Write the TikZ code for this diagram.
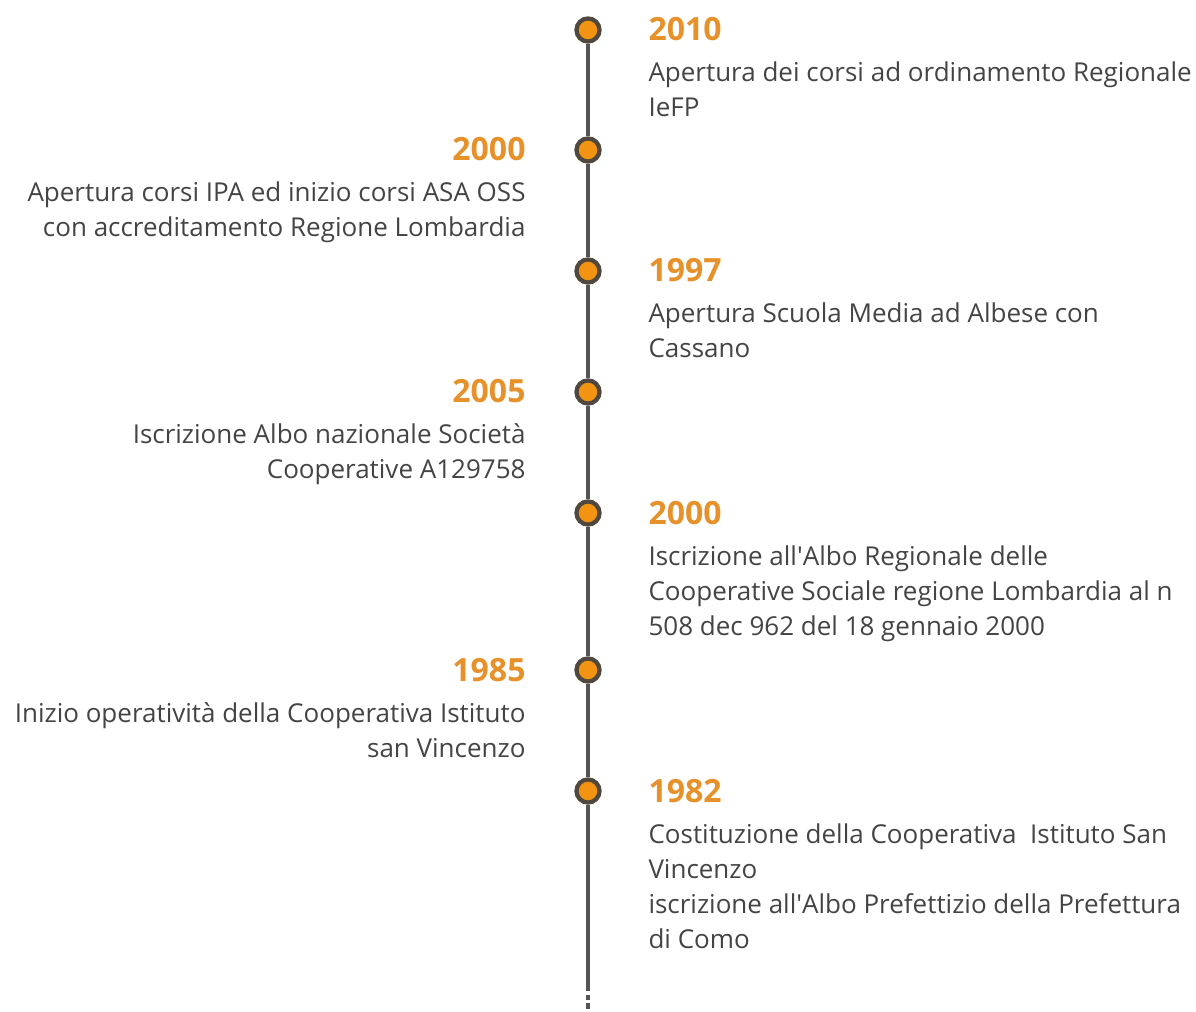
\documentclass[tikz,border=0pt]{standalone}
\usepackage{fontspec}
\setmainfont{Open Sans}
\definecolor{lineGray}{RGB}{85,85,85}
\definecolor{ringGray}{RGB}{80,72,62}
\definecolor{yearOrange}{RGB}{230,145,42}
\definecolor{dotOrange}{RGB}{242,148,18}
\definecolor{textGray}{RGB}{68,68,68}
\tikzset{every picture/.style={line width=0.75pt}}

\begin{document}
\begin{tikzpicture}[x=0.75pt,y=0.75pt,yscale=-1,xscale=1,
  dot/.style={circle,draw=ringGray,fill=dotOrange,line width=3.2pt,minimum size=17.3pt,inner sep=0pt},
  timeline/.style={draw=lineGray,line width=3pt},
  year/.style={text=yearOrange,font=\fontsize{24}{28}\selectfont\bfseries,inner sep=0pt},
  desc/.style={text=textGray,font=\fontsize{19.5}{26.25}\selectfont,inner sep=0pt}]
\path[use as bounding box] (0,0) rectangle (1196,1012);

%Shape: Circle
\node [dot] (d1) at (588,30) {};
\node [dot] (d2) at (588,150) {};
\node [dot] (d3) at (588,271) {};
\node [dot] (d4) at (588,392) {};
\node [dot] (d5) at (588,513) {};
\node [dot] (d6) at (588,670) {};
\node [dot] (d7) at (588,791) {};
\coordinate (tail) at (588,986);
\coordinate (tailend) at (588,1012);

%Straight Lines
\draw [timeline] (d1) -- (d2) ;
\draw [timeline] (d2) -- (d3) ;
\draw [timeline] (d3) -- (d4) ;
\draw [timeline] (d4) -- (d5) ;
\draw [timeline] (d5) -- (d6) ;
\draw [timeline] (d6) -- (d7) ;
\draw [timeline] (d7) -- (tail) ;
\draw [timeline,dash pattern=on 4pt off 2.5pt] (tail) -- (tailend) ;

% Text Node
\node [year,anchor=base west] (y1) at (648,41) {2010};
\node [desc,anchor=base west,align=left] (t1) at (648,117) {Apertura dei corsi ad ordinamento Regionale\\IeFP};
% Text Node
\node [year,anchor=base east] (y2) at (526,161) {2000};
\node [desc,anchor=base east,align=right] (t2) at (526,237) {Apertura corsi IPA ed inizio corsi ASA OSS\\con accreditamento Regione Lombardia};
% Text Node
\node [year,anchor=base west] (y3) at (648,282) {1997};
\node [desc,anchor=base west,align=left] (t3) at (648,358) {Apertura Scuola Media ad Albese con\\Cassano};
% Text Node
\node [year,anchor=base east] (y4) at (526,403) {2005};
\node [desc,anchor=base east,align=right] (t4) at (526,479) {Iscrizione Albo nazionale Società\\Cooperative A129758};
% Text Node
\node [year,anchor=base west] (y5) at (648,524) {2000};
\node [desc,anchor=base west,align=left] (t5) at (648,635) {Iscrizione all\textquotesingle Albo Regionale delle\\Cooperative Sociale regione Lombardia al n\\508 dec 962 del 18 gennaio 2000};
% Text Node
\node [year,anchor=base east] (y6) at (526,681) {1985};
\node [desc,anchor=base east,align=right] (t6) at (526,757) {Inizio operatività della Cooperativa Istituto\\san Vincenzo};
% Text Node
\node [year,anchor=base west] (y7) at (648,802) {1982};
\node [desc,anchor=base west,align=left] (t7) at (648,948) {Costituzione della Cooperativa \ Istituto San\\Vincenzo\\iscrizione all\textquotesingle Albo Prefettizio della Prefettura\\di Como};

\end{tikzpicture}
\end{document}
